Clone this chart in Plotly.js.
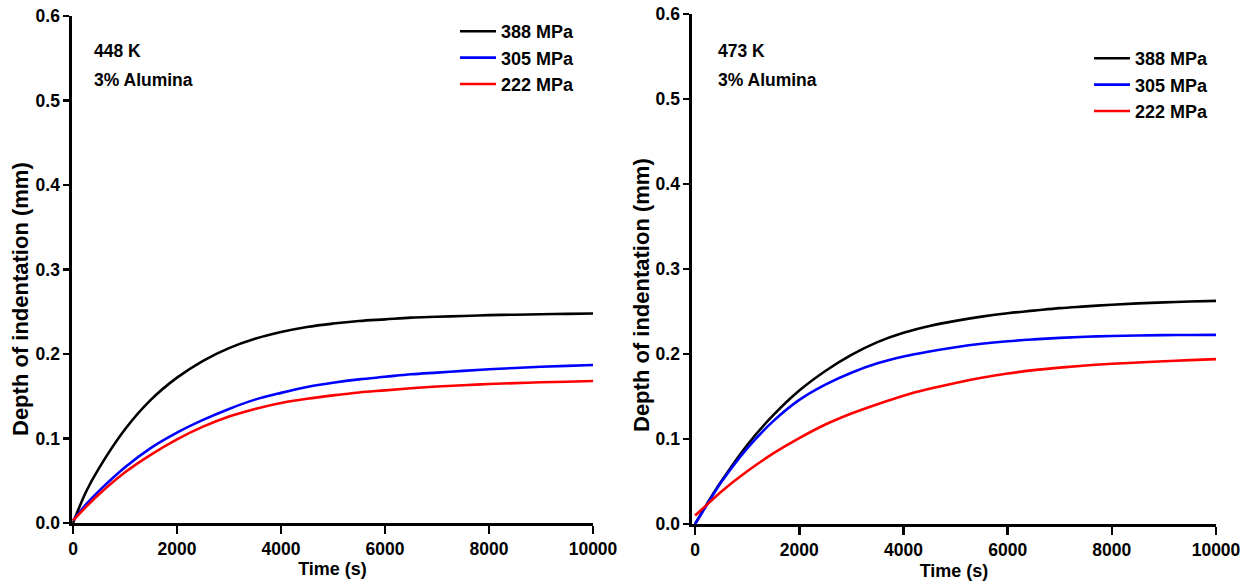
<!DOCTYPE html>
<html>
<head>
<meta charset="utf-8">
<script src="https://cdn.plot.ly/plotly-3.0.1.min.js"></script>
<style>
  html, body { margin: 0; padding: 0; background: #fff; }
  #chart { width: 1255px; height: 586px; }
</style>
</head>
<body>
<div id="chart"></div>
<script>
// Indentation depth vs. time, 3% alumina composite, two test temperatures
const timeS = [0, 250, 500, 1000, 1500, 2000, 2500, 3000, 3500, 4000, 4500, 5000,
               5500, 6000, 6500, 7000, 7500, 8000, 8500, 9000, 9500, 10000];

const stressLabels = ['388 MPa', '305 MPa', '222 MPa'];
const stressColors = ['#000000', '#0000ff', '#ff0000'];

// 448 K
const depth448_388 = [0.000, 0.037, 0.065, 0.111, 0.146, 0.172, 0.192, 0.207, 0.218, 0.226, 0.232, 0.236,
                      0.239, 0.241, 0.243, 0.244, 0.245, 0.246, 0.2465, 0.247, 0.2475, 0.248];
const depth448_305 = [0.003, 0.022, 0.038, 0.066, 0.089, 0.107, 0.122, 0.135, 0.146, 0.154, 0.161, 0.166,
                      0.170, 0.173, 0.176, 0.178, 0.180, 0.182, 0.1835, 0.185, 0.186, 0.187];
const depth448_222 = [0.003, 0.019, 0.034, 0.060, 0.081, 0.099, 0.114, 0.126, 0.135, 0.142, 0.147, 0.151,
                      0.1545, 0.157, 0.1595, 0.1615, 0.163, 0.1645, 0.1655, 0.1665, 0.1672, 0.168];

// 473 K
const depth473_388 = [0.000, 0.026, 0.050, 0.093, 0.128, 0.157, 0.180, 0.199, 0.214, 0.225, 0.233, 0.239,
                      0.244, 0.248, 0.251, 0.254, 0.256, 0.258, 0.2595, 0.2607, 0.2617, 0.2625];
const depth473_305 = [0.000, 0.025, 0.049, 0.089, 0.121, 0.146, 0.164, 0.178, 0.189, 0.197, 0.203, 0.208,
                      0.212, 0.215, 0.2172, 0.219, 0.2203, 0.2212, 0.2218, 0.2222, 0.2224, 0.2225];
const depth473_222 = [0.010, 0.024, 0.038, 0.062, 0.083, 0.101, 0.117, 0.130, 0.141, 0.151, 0.159, 0.166,
                      0.172, 0.177, 0.181, 0.184, 0.1865, 0.1885, 0.190, 0.1915, 0.1928, 0.194];

const panels = [
  { series: [depth448_388, depth448_305, depth448_222], xa: 'x', ya: 'y', legend: 'legend' },
  { series: [depth473_388, depth473_305, depth473_222], xa: 'x2', ya: 'y2', legend: 'legend2' }
];

const W = 1255, H = 586;
const FONT = '"Liberation Sans", Arial, sans-serif';

const traces = [];
panels.forEach((p, pi) => {
  p.series.forEach((vals, si) => {
    traces.push({
      x: timeS,
      y: vals,
      xaxis: p.xa,
      yaxis: p.ya,
      type: 'scatter',
      mode: 'lines',
      name: stressLabels[si],
      legend: p.legend,
      legendgroup: 'g' + pi + si,
      line: { color: stressColors[si], width: 2.6, shape: 'spline', smoothing: 1 },
      hoverinfo: 'x+y+name'
    });
  });
});

function xAxis(d0, d1, r0, anchor, standoff) {
  return {
    domain: [d0 / W, d1 / W],
    range: [r0, 10000],
    anchor: anchor,
    showgrid: false, zeroline: false,
    showline: true, linecolor: '#000', linewidth: 2.6,
    ticks: 'outside', ticklen: 8, tickwidth: 2.6, tickcolor: '#000',
    tick0: 0, dtick: 2000, tickformat: 'd',
    tickfont: { family: FONT, size: 17.5, color: '#000', weight: 'bold' },
    title: { text: 'Time (s)', standoff: standoff, font: { family: FONT, size: 18, color: '#000', weight: 'bold' } }
  };
}

function yAxis(top, bottom, anchor) {
  return {
    domain: [(H - bottom) / H, (H - top) / H],
    range: [0, 0.6],
    anchor: anchor,
    showgrid: false, zeroline: false,
    showline: true, linecolor: '#000', linewidth: 2.6,
    ticks: 'outside', ticklen: 6, tickwidth: 2.6, tickcolor: '#000',
    tick0: 0, dtick: 0.1, tickformat: '.1f',
    tickfont: { family: FONT, size: 17.5, color: '#000', weight: 'bold' }
  };
}

function legendAt(px, py) {
  return {
    x: px / W, y: 1 - py / H, xanchor: 'left', yanchor: 'top',
    bgcolor: 'rgba(0,0,0,0)', borderwidth: 0,
    font: { family: FONT, size: 18, color: '#000', weight: 'bold' },
    tracegroupgap: 0, itemwidth: 36
  };
}

function note(px, py, text) {
  return {
    xref: 'paper', yref: 'paper', x: px / W, y: 1 - py / H,
    xanchor: 'left', yanchor: 'middle', showarrow: false,
    text: text,
    font: { family: FONT, size: 17.5, color: '#000', weight: 'bold' }
  };
}

function yTitle(px, py) {
  return {
    xref: 'paper', yref: 'paper', x: px / W, y: 1 - py / H,
    xanchor: 'center', yanchor: 'middle', showarrow: false,
    textangle: -90,
    text: 'Depth of indentation (mm)',
    font: { family: FONT, size: 22, color: '#000', weight: 'bold' }
  };
}

const layout = {
  width: W, height: H,
  margin: { l: 0, r: 0, t: 0, b: 0 },
  paper_bgcolor: '#fff', plot_bgcolor: '#fff',
  showlegend: true,
  xaxis: xAxis(72, 593, -20, 'y', 2),
  yaxis: yAxis(16, 523, 'x'),
  xaxis2: xAxis(692, 1216, -60, 'y2', 6),
  yaxis2: yAxis(14, 524, 'x2'),
  legend: legendAt(455, 13),
  legend2: legendAt(1089, 40),
  annotations: [
    note(92, 51, '448 K'),
    note(92, 80, '3% Alumina'),
    note(716, 51, '473 K'),
    note(716, 80, '3% Alumina'),
    yTitle(20, 299),
    yTitle(641, 295)
  ]
};

Plotly.newPlot('chart', traces, layout, { staticPlot: true, displayModeBar: false });
</script>
</body>
</html>
